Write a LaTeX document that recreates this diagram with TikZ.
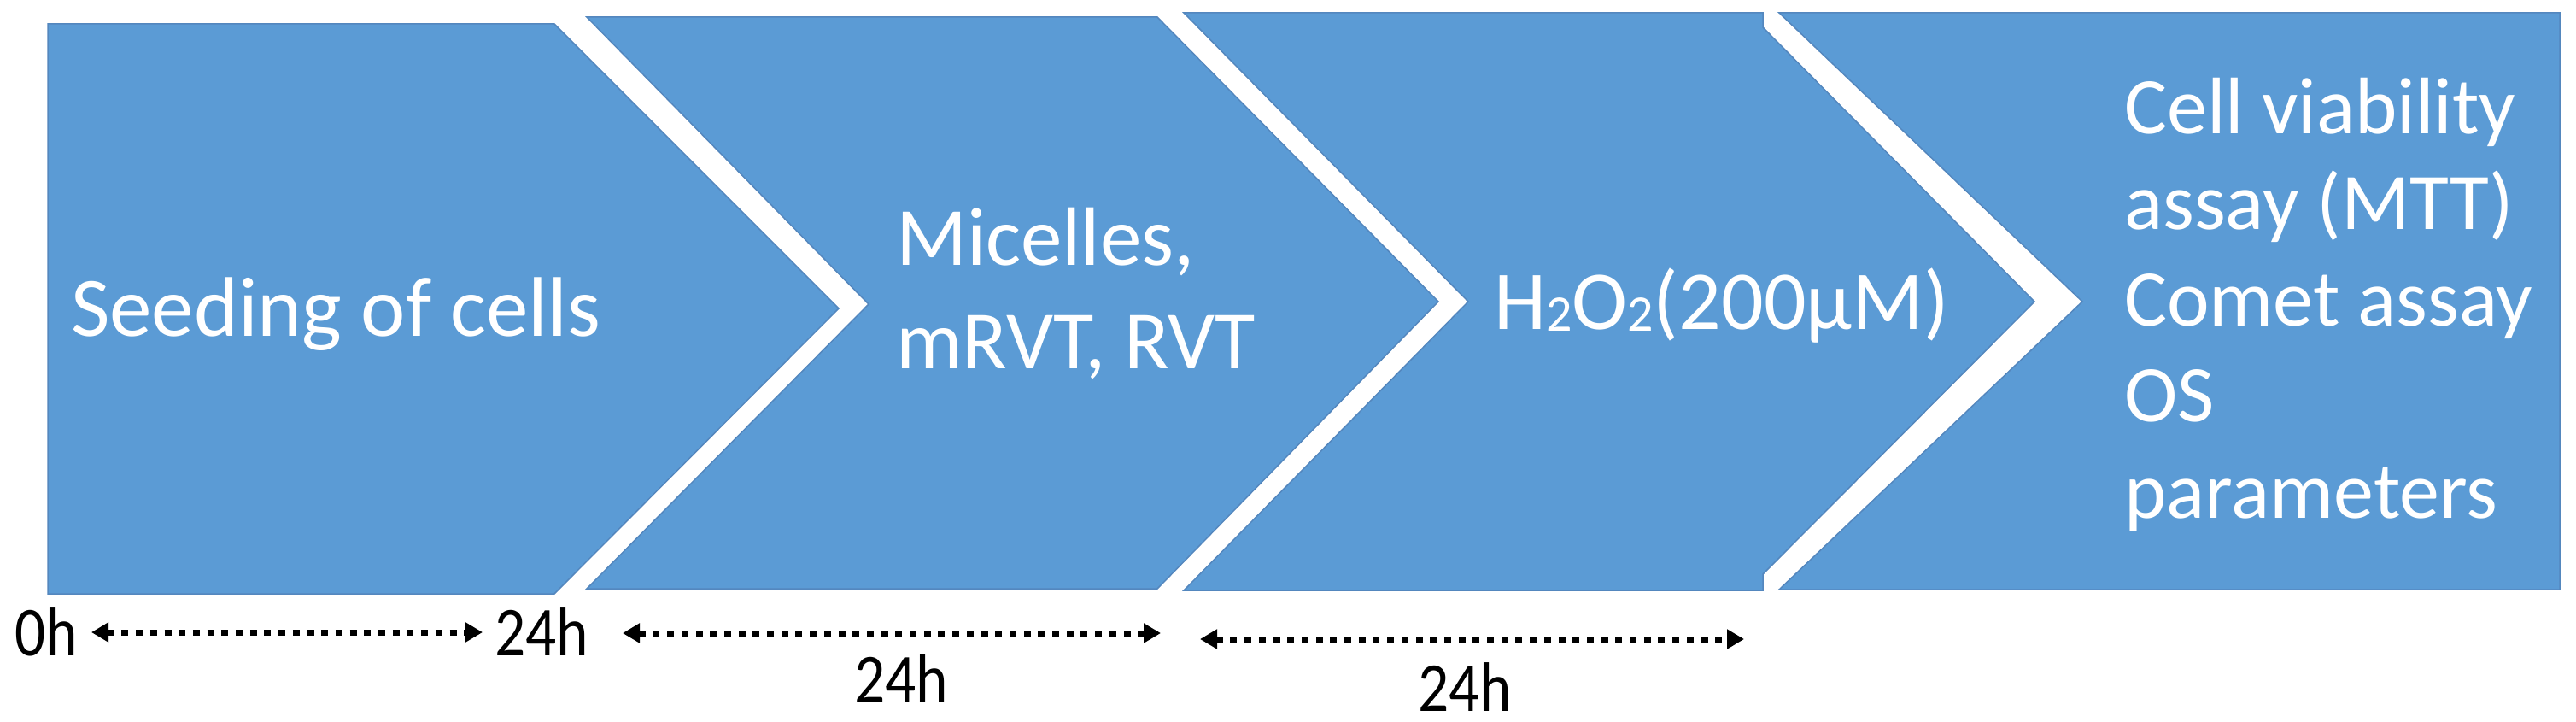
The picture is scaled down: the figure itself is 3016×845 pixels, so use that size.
\documentclass[tikz,border=0pt]{standalone}
\usepackage{fontspec}
\setmainfont{Carlito}
\usetikzlibrary{arrows.meta}
\definecolor{chev}{RGB}{91,155,213}
\definecolor{chevedge}{RGB}{84,135,190}
\newcommand{\lowtwo}{\raisebox{-2pt}{\fontsize{60}{60}\selectfont 2}}
\begin{document}
\begin{tikzpicture}[x=1pt,y=-1pt,
  chevshape/.style={fill=chev, draw=chevedge, line width=1.5pt, line join=miter},
  steptext/.style={text=white, inner sep=0pt, align=left},
  timelbl/.style={text=black, inner sep=0pt, font=\fontsize{82}{90}\selectfont, xscale=0.87},
  timeline/.style={line width=7pt, dash pattern=on 8pt off 8.7pt,
    {Triangle[length=20pt,width=22pt]}-{Triangle[length=20pt,width=22pt]}}]
\useasboundingbox (0,0) rectangle (3016,845);
\path[fill=white] (0,0) rectangle (3016,845);

% chevrons
\draw[chevshape] (56,28) -- (649,28) -- (982,361) -- (649,695) -- (56,695) -- cycle;
\draw[chevshape] (687,20) -- (1355,20) -- (1684,353) -- (1355,689) -- (687,689) -- (1017,356) -- cycle;
\draw[chevshape] (1386,15) -- (2064,15) -- (2064,32) -- (2382,353) -- (2064,672) -- (2064,691) -- (1386,691) -- (1719,353) -- cycle;
\draw[chevshape] (2083,15) -- (2997,15) -- (2997,690) -- (2083,690) -- (2438,353) -- cycle;

% step texts (base anchor = baseline of the last line)
\node[steptext, anchor=base west, font=\fontsize{99}{121}\selectfont] (seed) at (83,393) {Seeding of cells};
\node[steptext, anchor=base west, font=\fontsize{97}{121}\selectfont] (mic) at (1049,431) {Micelles,\\mRVT, RVT};
\node[steptext, anchor=base west, font=\fontsize{98}{120}\selectfont] (hyd) at (1749,385) {H\lowtwo O\lowtwo(200µM)};
\node[steptext, anchor=base west, font=\fontsize{94}{112.5}\selectfont] (assay) at (2487,606) {Cell viability\\assay (MTT)\\Comet assay\\OS\\parameters};

% time labels
\node[timelbl, anchor=base west] (t0) at (17,767) {0h};
\node[timelbl, anchor=base west] (t1) at (579,767) {24h};
\node[timelbl, anchor=base west] (t2) at (1000,822) {24h};
\node[timelbl, anchor=base west] (t3) at (1660,832) {24h};

% time arrows
\coordinate (a1l) at (107,740);
\coordinate (a1r) at (565,740);
\coordinate (a2l) at (729,741);
\coordinate (a2r) at (1359,741);
\coordinate (a3l) at (1405,748);
\coordinate (a3r) at (2042,748);
\draw[timeline] (a1l) -- (a1r);
\draw[timeline] (a2l) -- (a2r);
\draw[timeline] (a3l) -- (a3r);
\end{tikzpicture}
\end{document}
